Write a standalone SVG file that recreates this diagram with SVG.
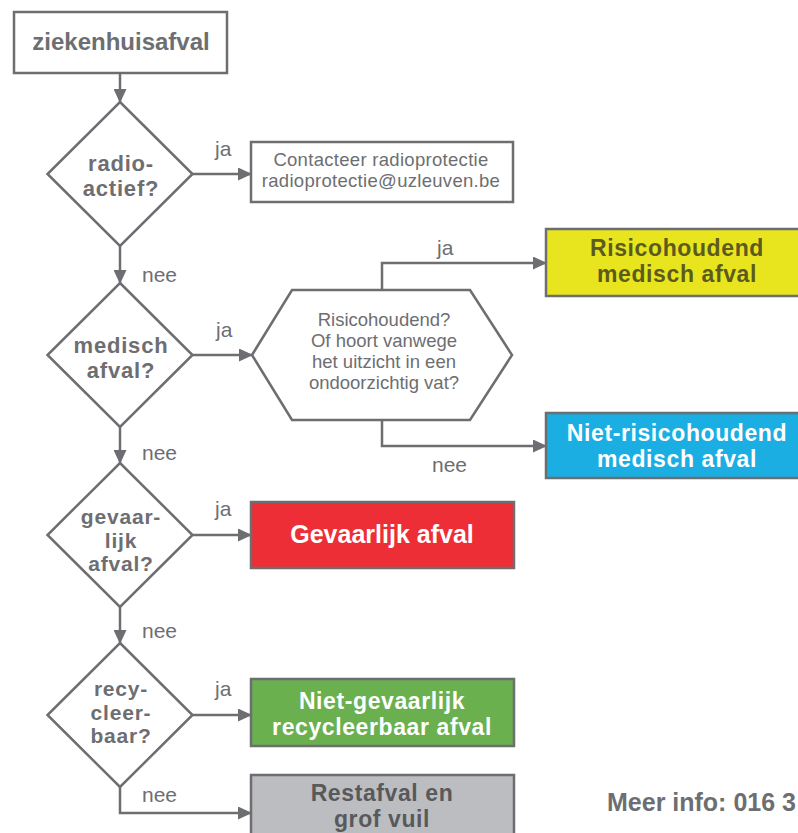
<svg xmlns="http://www.w3.org/2000/svg" width="798" height="833" viewBox="0 0 798 833">
<style>
.sh{fill:#fff;stroke:#6d6e71;stroke-width:2.5}
.cb{stroke:#6d6e71;stroke-width:2.5}
.con{fill:none;stroke:#6d6e71;stroke-width:2.5}
.b{font-family:"Liberation Sans",Arial,sans-serif;font-weight:bold;text-anchor:middle}
.r{font-family:"Liberation Sans",Arial,sans-serif;text-anchor:middle}
.d2{font-size:22px;letter-spacing:0.8px}
.d3{font-size:21px;letter-spacing:0.8px}
.bx{font-size:23px;letter-spacing:0.6px}
.lbl{font-family:"Liberation Sans",Arial,sans-serif;font-size:21px;fill:#6d6e71}
.g{fill:#6d6e71}
.w{fill:#fff}
</style>
<defs>
<marker id="ah" viewBox="0 0 14 13" refX="13" refY="6.5" markerWidth="14" markerHeight="13" markerUnits="userSpaceOnUse" orient="auto">
<path d="M0,0 L14,6.5 L0,13 z" fill="#6d6e71"/>
</marker>
</defs>
<rect width="798" height="833" fill="#fff"/>
<g id="connectors">
<path class="con" d="M120,73 V102" marker-end="url(#ah)"/>
<path class="con" d="M192.5,174 H251" marker-end="url(#ah)"/>
<path class="con" d="M120,246 V283" marker-end="url(#ah)"/>
<path class="con" d="M192.5,355 H252" marker-end="url(#ah)"/>
<path class="con" d="M382,290 V263 H546" marker-end="url(#ah)"/>
<path class="con" d="M382,420 V446 H546" marker-end="url(#ah)"/>
<path class="con" d="M120,427 V463" marker-end="url(#ah)"/>
<path class="con" d="M192.5,535 H251" marker-end="url(#ah)"/>
<path class="con" d="M120,607 V643" marker-end="url(#ah)"/>
<path class="con" d="M192.5,715 H251" marker-end="url(#ah)"/>
<path class="con" d="M120,787 V813 H251" marker-end="url(#ah)"/>
<text class="lbl" x="215" y="156">ja</text>
<text class="lbl" x="142" y="282">nee</text>
<text class="lbl" x="216" y="337">ja</text>
<text class="lbl" x="437" y="255">ja</text>
<text class="lbl" x="432" y="472">nee</text>
<text class="lbl" x="142" y="460">nee</text>
<text class="lbl" x="215" y="516">ja</text>
<text class="lbl" x="142" y="638">nee</text>
<text class="lbl" x="215" y="696">ja</text>
<text class="lbl" x="142" y="802">nee</text>
</g>
<g id="start">
<rect class="sh" x="14" y="12" width="213" height="61"/>
<text class="b g" x="121" y="50" font-size="24">ziekenhuisafval</text>
</g>
<g id="radioactief">
<polygon class="sh" points="120,102 192.5,174 120,246 47.5,174"/>
<text class="b g d2" x="121" y="171">radio-</text>
<text class="b g d2" x="121" y="196">actief?</text>
</g>
<g id="contact">
<rect class="sh" x="251" y="142" width="262" height="60"/>
<text class="r g" x="381" y="166" font-size="18.5" letter-spacing="0.3">Contacteer radioprotectie</text>
<text class="r g" x="381" y="187" font-size="18.5" letter-spacing="0.3">radioprotectie@uzleuven.be</text>
</g>
<g id="medisch">
<polygon class="sh" points="120,283 192.5,355 120,427 47.5,355"/>
<text class="b g d2" x="121" y="353">medisch</text>
<text class="b g d2" x="121" y="378">afval?</text>
</g>
<g id="risico-vraag">
<polygon class="sh" points="252,355 292,290 470,290 512,355 470,420 292,420"/>
<text class="r g" x="384" y="326" font-size="18.5">Risicohoudend?</text>
<text class="r g" x="384" y="347" font-size="18.5">Of hoort vanwege</text>
<text class="r g" x="384" y="368" font-size="18.5">het uitzicht in een</text>
<text class="r g" x="384" y="389" font-size="18.5">ondoorzichtig vat?</text>
</g>
<g id="risicohoudend">
<rect class="cb" x="546" y="229" width="262" height="67" fill="#e8e51f"/>
<text class="b bx" x="677" y="256" fill="#5c5a1d">Risicohoudend</text>
<text class="b bx" x="677" y="282" fill="#5c5a1d">medisch afval</text>
</g>
<g id="niet-risicohoudend">
<rect class="cb" x="546" y="413" width="262" height="65" fill="#1aaee3"/>
<text class="b w bx" x="677" y="441">Niet-risicohoudend</text>
<text class="b w bx" x="677" y="467">medisch afval</text>
</g>
<g id="gevaarlijk">
<polygon class="sh" points="120,463 192.5,535 120,607 47.5,535"/>
<text class="b g d3" x="121" y="524">gevaar-</text>
<text class="b g d3" x="121" y="547.5">lijk</text>
<text class="b g d3" x="121" y="571">afval?</text>
</g>
<g id="gevaarlijk-afval">
<rect class="cb" x="251" y="502" width="263" height="66" fill="#ee2e36"/>
<text class="b w" x="382" y="543" font-size="25">Gevaarlijk afval</text>
</g>
<g id="recycleerbaar">
<polygon class="sh" points="120,643 192.5,715 120,787 47.5,715"/>
<text class="b g d3" x="121" y="696">recy-</text>
<text class="b g d3" x="121" y="719.5">cleer-</text>
<text class="b g d3" x="121" y="743">baar?</text>
</g>
<g id="recycleerbaar-afval">
<rect class="cb" x="251" y="679" width="263" height="67" fill="#6ab04f"/>
<text class="b w bx" x="382" y="709">Niet-gevaarlijk</text>
<text class="b w bx" x="382" y="735">recycleerbaar afval</text>
</g>
<g id="restafval">
<rect class="cb" x="251" y="775" width="263" height="72" fill="#bcbdc0"/>
<text class="b bx" x="382" y="801" fill="#58595b">Restafval en</text>
<text class="b bx" x="382" y="827" fill="#58595b">grof vuil</text>
</g>
<g id="info">
<text font-family="'Liberation Sans',Arial,sans-serif" font-weight="bold" font-size="25" fill="#6d6e71" x="607" y="811">Meer info: 016 3</text>
</g>
</svg>
